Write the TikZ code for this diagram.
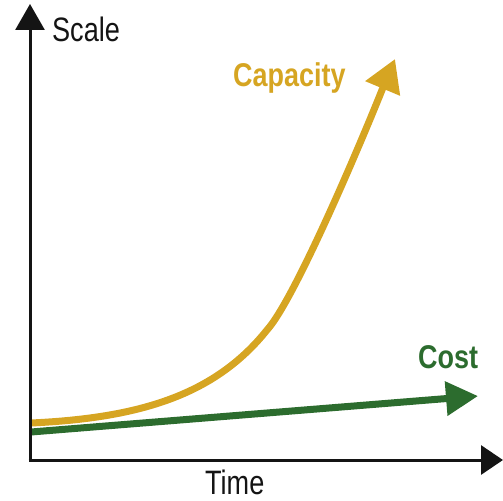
\documentclass[tikz,border=0pt]{standalone}
\usepackage{fontspec}
\setmainfont{Liberation Sans}
\usetikzlibrary{arrows.meta}
\definecolor{capgold}{RGB}{214,165,34}
\definecolor{costgreen}{RGB}{44,108,46}
\definecolor{axisblack}{RGB}{20,20,20}
\tikzset{
  axisline/.style={draw=axisblack, line width=3bp, -{Triangle[length=26bp,width=29bp]}},
  capline/.style={draw=capgold, line width=7bp, -{Triangle[length=32bp,width=36bp]}},
  costline/.style={draw=costgreen, line width=7bp, -{Triangle[length=32bp,width=33bp]}},
  axislabel/.style={inner sep=0pt, anchor=base west, xscale=0.8, font=\fontsize{34}{40}\selectfont, text=axisblack},
  serieslabel/.style={inner sep=0pt, anchor=base west, xscale=0.82, font=\fontsize{33}{40}\selectfont\bfseries}
}
\begin{document}
\begin{tikzpicture}[x=1bp, y=-1bp]
\useasboundingbox (0,0) rectangle (503,501);
% coordinates
\coordinate (origin) at (30,460);
\coordinate (ytip) at (30,4);
\coordinate (xtip) at (503,460);
\coordinate (capstart) at (31,423);
\coordinate (capmid) at (267,330);
\coordinate (capend) at (382,90);
\coordinate (captip) at (395,59);
\coordinate (coststart) at (31,432);
\coordinate (costtip) at (478,396);
% curves
\draw[capline] (capstart) .. controls (140,418) and (215,395) .. (capmid)
  .. controls (295,299) and (362,140) .. (capend) -- (captip);
\draw[costline] (coststart) -- (costtip);
% axes
\draw[axisline] (origin) -- (ytip);
\draw[axisline, -{Triangle[length=22bp,width=29bp]}] ([xshift=-1.5bp]origin) -- (xtip);
% labels
\node[axislabel] (scale) at (52,42) {Scale};
\node[axislabel] (time) at (205,494) {Time};
\node[serieslabel, text=capgold] (cap) at (233,87) {Capacity};
\node[serieslabel, text=costgreen] (cost) at (418,368) {Cost};
\end{tikzpicture}
\end{document}
